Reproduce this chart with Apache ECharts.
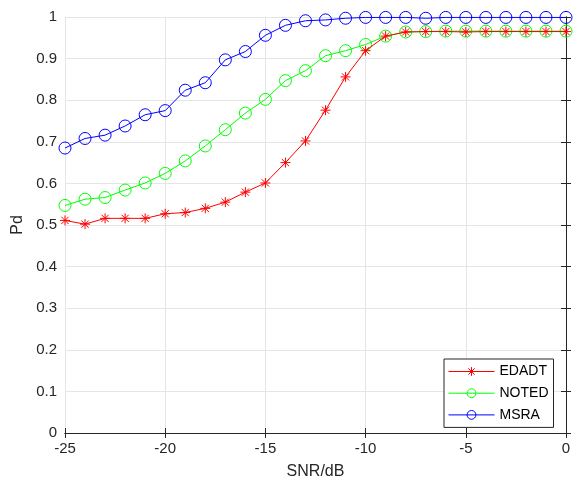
<!DOCTYPE html>
<html><head><meta charset="utf-8">
<script src="https://cdn.jsdelivr.net/npm/echarts@6/dist/echarts.min.js"></script>
<style>html,body{margin:0;padding:0;background:#fff}#c{width:573px;height:482px}</style>
</head><body><div id="c"></div>
<script>
const snr = [-25,-24,-23,-22,-21,-20,-19,-18,-17,-16,-15,-14,-13,-12,-11,-10,-9,-8,-7,-6,-5,-4,-3,-2,-1,0];
const edadt = [0.511,0.502,0.516,0.516,0.516,0.527,0.530,0.540,0.555,0.579,0.601,0.650,0.702,0.776,0.856,0.919,0.954,0.964,0.965,0.965,0.964,0.965,0.965,0.965,0.965,0.965];
const noted = [0.547,0.562,0.566,0.584,0.601,0.624,0.654,0.690,0.729,0.769,0.802,0.847,0.871,0.907,0.919,0.934,0.954,0.964,0.965,0.966,0.966,0.966,0.966,0.966,0.966,0.966];
const msra  = [0.685,0.708,0.716,0.738,0.765,0.775,0.824,0.842,0.897,0.917,0.956,0.980,0.991,0.993,0.997,0.999,0.999,0.999,0.997,0.999,0.999,0.999,0.999,0.999,0.999,0.999];
const names = ['EDADT','NOTED','MSRA'];
const pair = arr => snr.map((x,i)=>[x,arr[i]]);
const font = "'Liberation Sans', Arial, sans-serif";
const txt = '#262626';
const star = 'path://M0,-1L0,1M-1,0L1,0M-0.72,-0.72L0.72,0.72M-0.72,0.72L0.72,-0.72';
const chart = echarts.init(document.getElementById('c'));
const baseAxis = {
  axisLine:{show:true,lineStyle:{color:txt,width:1}},
  axisTick:{show:true,inside:true,length:5,lineStyle:{color:txt}},
  splitLine:{show:false}
};
chart.setOption({
  animation:false,
  backgroundColor:'#fff',
  grid:{left:65,right:7,top:17,bottom:49,show:false,containLabel:false,outerBoundsMode:'none'},
  legend:{
    data:names, orient:'vertical', left:444, top:359,
    itemWidth:46, itemHeight:11, itemGap:7.7,
    padding:[5.5,5,5.5,4],
    lineStyle:{width:1},
    itemStyle:{borderWidth:1},
    backgroundColor:'#fff', borderColor:txt, borderWidth:1,
    textStyle:{fontFamily:font,fontSize:14,color:'#000',padding:[0,0,0,0]}
  },
  xAxis:[
    Object.assign({}, baseAxis, {type:'value',min:-25,max:0,interval:5,position:'bottom',
      name:'SNR/dB',nameLocation:'middle',nameGap:31,
      nameTextStyle:{fontFamily:font,fontSize:16,color:txt},
      axisLabel:{fontFamily:font,fontSize:15,color:txt,margin:8},
      splitLine:{show:true,lineStyle:{color:'#e5e5e5',width:1}}}),
    Object.assign({}, baseAxis, {type:'value',min:-25,max:0,interval:5,position:'top',axisLabel:{show:false}})
  ],
  yAxis:[
    Object.assign({}, baseAxis, {type:'value',min:0,max:1,interval:0.1,position:'left',
      name:'Pd',nameLocation:'middle',nameGap:34,
      nameTextStyle:{fontFamily:font,fontSize:16,color:txt},
      axisLabel:{fontFamily:font,fontSize:15,color:txt,margin:8},
      splitLine:{show:true,lineStyle:{color:'#e5e5e5',width:1}}}),
    Object.assign({}, baseAxis, {type:'value',min:0,max:1,interval:0.1,position:'right',axisLabel:{show:false}})
  ],
  series:[
    {name:'EDADT',type:'line',data:pair(edadt),symbol:star,symbolSize:10,showAllSymbol:true,z:5,
      lineStyle:{color:'#ff0000',width:1},itemStyle:{color:'#ff0000',borderColor:'#ff0000',borderWidth:1}},
    {name:'NOTED',type:'line',data:pair(noted),symbol:'circle',symbolSize:12,showAllSymbol:true,z:4,
      lineStyle:{color:'#00ff00',width:1},itemStyle:{color:'rgba(0,0,0,0)',borderColor:'#00ff00',borderWidth:1}},
    {name:'MSRA',type:'line',data:pair(msra),symbol:'circle',symbolSize:12,showAllSymbol:true,z:3,
      lineStyle:{color:'#0000ff',width:1},itemStyle:{color:'rgba(0,0,0,0)',borderColor:'#0000ff',borderWidth:1}}
  ]
});
</script></body></html>
